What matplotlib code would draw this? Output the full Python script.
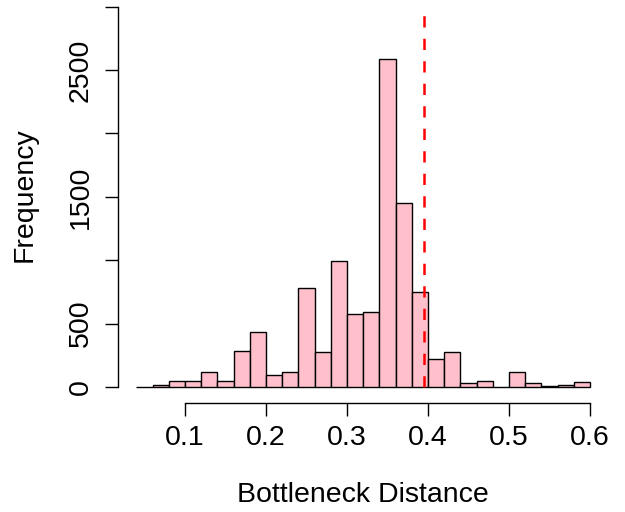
import numpy as np
import matplotlib
matplotlib.use("Agg")
import matplotlib.pyplot as plt

# histogram bins (left edges) and counts
bin_edges = np.round(np.arange(0.04, 0.6001, 0.02), 2)
counts = [3, 12, 45, 48, 118, 45, 283, 435, 97, 116, 777, 278, 995, 575,
          588, 2585, 1449, 746, 223, 278, 29, 47, 2, 120, 34, 8, 18, 37]
threshold = 0.3955

x_ticks = [0.1, 0.2, 0.3, 0.4, 0.5, 0.6]
y_ticks = [0, 500, 1000, 1500, 2000, 2500, 3000]
y_ticklabels = ["0", "500", "", "1500", "", "2500", ""]

plt.rcParams["font.family"] = ["Liberation Sans", "DejaVu Sans"]
fs = 20.5

W, H = 625, 512
fig = plt.figure(figsize=(W / 100, H / 100), dpi=100)
left, right, bottom, top = 118.3, 608.2, 402.7, 0.0
ax = fig.add_axes([left / W, 1 - bottom / H, (right - left) / W, (bottom - top) / H])

ax.bar(bin_edges[:-1], counts, width=0.02, align="edge",
       color="pink", edgecolor="black", linewidth=1.0)
ax.vlines(threshold, 0, 3000, colors="red", linewidth=1.8,
          linestyles=[(0, (4.5, 4.5))])

ax.set_xlim(0.0176, 0.6224)
ax.set_ylim(-124, 3053)

for s in ["top", "right"]:
    ax.spines[s].set_visible(False)
ax.spines["bottom"].set_bounds(0.1, 0.6)
ax.spines["left"].set_bounds(0, 3000)
ax.spines["bottom"].set_linewidth(1.0)
ax.spines["left"].set_linewidth(1.0)

ax.set_xticks(x_ticks)
ax.set_xticklabels([str(v) for v in x_ticks])
ax.set_yticks(y_ticks)
ax.set_yticklabels(y_ticklabels, rotation=90, va="center")
ax.tick_params(axis="x", direction="out", length=9, width=1.0, labelsize=fs, pad=7)
ax.tick_params(axis="y", direction="out", length=9.5, width=1.0, labelsize=fs, pad=8)

fig.text(363 / W, 1 - 502 / H, "Bottleneck Distance", ha="center", va="baseline", fontsize=fs)
fig.text(25 / W, 1 - 195 / H, "Frequency", ha="center", va="center", rotation=90, fontsize=fs)

fig.savefig("out.png", dpi=100)
